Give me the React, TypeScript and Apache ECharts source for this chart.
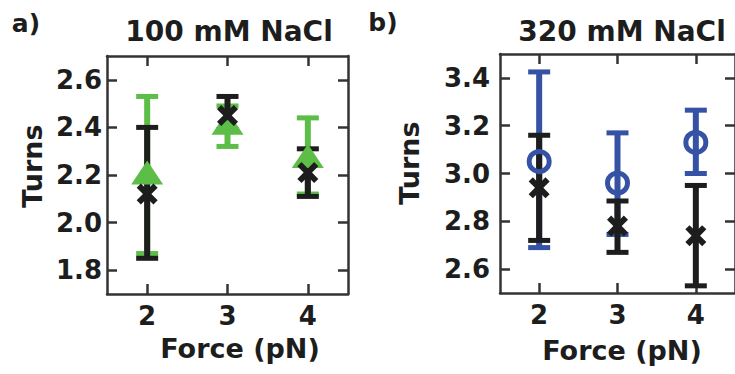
import React, { useEffect, useRef } from "react";
import * as echarts from "echarts";

const forces = [2, 3, 4];
const xTicks = [2, 3, 4];
const yTicksA = [1.8, 2.0, 2.2, 2.4, 2.6];
const yTicksB = [2.6, 2.8, 3.0, 3.2, 3.4];

// panel a) 100 mM NaCl
const greenMean = [2.21, 2.42, 2.28];
const greenLow = [1.87, 2.32, 2.12];
const greenHigh = [2.53, 2.49, 2.44];
const blackAMean = [2.12, 2.45, 2.21];
const blackALow = [1.85, 2.39, 2.11];
const blackAHigh = [2.4, 2.53, 2.31];

// panel b) 320 mM NaCl
const blueMean = [3.05, 2.96, 3.13];
const blueLow = [2.69, 2.745, 3.0];
const blueHigh = [3.425, 3.17, 3.265];
const blackBMean = [2.94, 2.78, 2.74];
const blackBLow = [2.72, 2.67, 2.53];
const blackBHigh = [3.16, 2.885, 2.95];

const GREEN = "#5cbd47";
const BLUE = "#3552a5";
const BLACK = "#1d1d1d";
const AXIS = "#333333";
const FONT = "DejaVu Sans";
const X_PATH =
  "path://M0,4 L4,0 L10,6 L16,0 L20,4 L14,10 L20,16 L16,20 L10,14 L4,20 L0,16 L6,10 Z";

function errBar(color: string, xi: number, yi: number, lo: number[], hi: number[]) {
  return {
    type: "custom",
    xAxisIndex: xi,
    yAxisIndex: yi,
    data: forces.map((f, i) => [f, lo[i], hi[i]]),
    encode: { x: 0, y: [1, 2] },
    renderItem: (_p: any, api: any) => {
      const x = api.value(0);
      const pLo = api.coord([x, api.value(1)]);
      const pHi = api.coord([x, api.value(2)]);
      const hw = 11;
      return {
        type: "group",
        children: [
          { type: "line", shape: { x1: pLo[0], y1: pLo[1], x2: pHi[0], y2: pHi[1] }, style: { stroke: color, lineWidth: 6 } },
          { type: "line", shape: { x1: pHi[0] - hw, y1: pHi[1], x2: pHi[0] + hw, y2: pHi[1] }, style: { stroke: color, lineWidth: 5 } },
          { type: "line", shape: { x1: pLo[0] - hw, y1: pLo[1], x2: pLo[0] + hw, y2: pLo[1] }, style: { stroke: color, lineWidth: 5 } },
        ],
      };
    },
  };
}

function xAxisPair(gi: number) {
  const base = {
    type: "value",
    gridIndex: gi,
    min: 1.5,
    max: 4.5,
    splitLine: { show: false },
    axisLine: { show: true, onZero: false, lineStyle: { color: AXIS, width: 2.5 } },
    axisTick: { show: true, inside: true, length: 10, lineStyle: { color: AXIS, width: 2.5 }, customValues: xTicks },
  };
  return [
    {
      ...base,
      position: "bottom",
      axisLabel: { show: true, customValues: xTicks, margin: 9, fontSize: 26, fontWeight: "bold", fontFamily: FONT, color: BLACK },
    },
    { ...base, position: "top", axisLabel: { show: false } },
  ];
}

function yAxisPair(gi: number, min: number, max: number, ticks: number[], margin: number) {
  const base = {
    type: "value",
    gridIndex: gi,
    min,
    max,
    splitLine: { show: false },
    axisLine: { show: true, onZero: false, lineStyle: { color: AXIS, width: 2.5 } },
    axisTick: { show: true, inside: true, length: 10, lineStyle: { color: AXIS, width: 2.5 }, customValues: ticks },
  };
  return [
    {
      ...base,
      position: "left",
      axisLabel: {
        show: true,
        customValues: ticks,
        margin,
        formatter: (v: number) => v.toFixed(1),
        fontSize: 26,
        fontWeight: "bold",
        fontFamily: FONT,
        color: BLACK,
      },
    },
    { ...base, position: "right", axisLabel: { show: false } },
  ];
}

function scatter(xi: number, yi: number, vals: number[], symbol: string, size: any, itemStyle: any) {
  return {
    type: "scatter",
    xAxisIndex: xi,
    yAxisIndex: yi,
    data: forces.map((f, i) => [f, vals[i]]),
    symbol,
    symbolSize: size,
    itemStyle: { opacity: 1, ...itemStyle },
  };
}

function txt(text: string, x: number, y: number, size: number, rotation = 0) {
  return {
    type: "text",
    x,
    y,
    rotation,
    style: {
      text,
      fontSize: size,
      fontWeight: "bold",
      fontFamily: FONT,
      fill: BLACK,
      align: "center",
      verticalAlign: "middle",
    },
  };
}

export default function App() {
  const ref = useRef<HTMLDivElement>(null);
  useEffect(() => {
    if (!ref.current) return;
    const chart = echarts.init(ref.current, undefined, { renderer: "svg" });
    chart.setOption({
      animation: false,
      backgroundColor: "#ffffff",
      grid: [
        { left: 107, top: 56, width: 241, height: 238 },
        { left: 500, top: 54, width: 239, height: 239 },
      ],
      xAxis: [...xAxisPair(0), ...xAxisPair(1)],
      yAxis: [...yAxisPair(0, 1.7, 2.7, yTicksA, 5), ...yAxisPair(1, 2.5, 3.5, yTicksB, 10)],
      series: [
        errBar(GREEN, 0, 0, greenLow, greenHigh),
        scatter(0, 0, greenMean, "triangle", [32, 24], { color: GREEN }),
        errBar(BLACK, 0, 0, blackALow, blackAHigh),
        scatter(0, 0, blackAMean, X_PATH, 21, { color: BLACK }),
        errBar(BLUE, 2, 2, blueLow, blueHigh),
        scatter(2, 2, blueMean, "circle", 20, { color: "rgba(0,0,0,0)", borderColor: BLUE, borderWidth: 5 }),
        errBar(BLACK, 2, 2, blackBLow, blackBHigh),
        scatter(2, 2, blackBMean, X_PATH, 21, { color: BLACK }),
      ],
      graphic: [
        txt("a)", 26, 23, 25),
        txt("b)", 383, 22, 25),
        txt("100 mM NaCl", 229, 31, 28),
        txt("320 mM NaCl", 622, 31, 28),
        txt("Turns", 32, 166, 27, Math.PI / 2),
        txt("Turns", 409, 163, 27, Math.PI / 2),
        txt("Force (pN)", 240, 348, 27),
        txt("Force (pN)", 622, 350, 27),
      ],
    });
    return () => chart.dispose();
  }, []);
  return <div ref={ref} style={{ position: "absolute", left: 0, top: 0, width: 735, height: 374 }} />;
}
